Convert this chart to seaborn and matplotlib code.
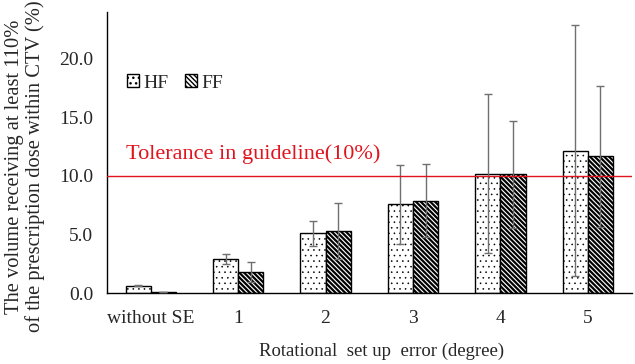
import matplotlib
matplotlib.use('Agg')
from matplotlib import pyplot as plt
from matplotlib.patches import Patch
import seaborn as sns
import pandas as pd

categories = ['without SE', '1', '2', '3', '4', '5']
hf_mean = [0.62, 2.89, 5.1, 7.57, 10.2, 12.16]
hf_sd = [0.05, 0.42, 1.05, 3.4, 6.8, 10.7]
ff_mean = [0.08, 1.78, 5.3, 7.9, 10.14, 11.67]
ff_sd = [0.0, 0.85, 2.4, 3.15, 4.56, 6.0]
tolerance = 10.0

sns.set_style('white')
plt.rcParams['font.family'] = ['Liberation Serif', 'DejaVu Serif']
plt.rcParams['hatch.linewidth'] = 1.0

df = pd.DataFrame({
    'category': categories * 2,
    'value': hf_mean + ff_mean,
    'sd': hf_sd + ff_sd,
    'group': ['HF'] * len(categories) + ['FF'] * len(categories),
})

fig = plt.figure(figsize=(6.35, 3.64), dpi=100)
ax = fig.add_axes([0.1685, 0.195, 0.826, 0.772])

sns.barplot(data=df, x='category', y='value', hue='group', hue_order=['HF', 'FF'],
            palette=['white', 'white'], edgecolor='black', linewidth=1.0,
            width=0.575, errorbar=None, legend=False, ax=ax)

hatches = {'HF': '...', 'FF': '\\' * 7}
hatch_lw = {'HF': 0.4, 'FF': 1.6}


def style_hatch(p, grp):
    p.set_hatch(hatches[grp])
    if hasattr(p, 'set_hatch_linewidth'):
        p.set_hatch_linewidth(hatch_lw[grp])


# patches come in hue order: all HF bars then all FF bars
for i, p in enumerate(ax.patches):
    grp = 'HF' if i < len(categories) else 'FF'
    style_hatch(p, grp)
    idx = i % len(categories)
    sd = hf_sd[idx] if grp == 'HF' else ff_sd[idx]
    xc = p.get_x() + p.get_width() / 2
    ax.errorbar(xc, p.get_height(), yerr=sd, color='#707070', linewidth=1.0,
                capsize=3, capthick=1.0, zorder=3)

ax.axhline(tolerance, color='#e0141e', linewidth=1.0, zorder=4)
ax.text(-0.28, 11.0, 'Tolerance in guideline(10%)', color='#e0141e',
        fontsize=16, ha='left', va='bottom')

ax.set_ylim(0, 24)
ax.set_xlim(-0.5, 5.5)
ax.set_yticks([0, 5, 10, 15, 20])
ax.set_yticklabels([f'{v:.1f}' for v in [0, 5, 10, 15, 20]], fontsize=14)
ax.set_xticks(range(len(categories)))
ax.set_xticklabels(categories, fontsize=14)
ax.tick_params(axis='y', length=0, pad=10)
ax.tick_params(axis='x', length=0, pad=12)

ax.set_xlabel('Rotational  set up  error (degree)', fontsize=13.5)
ax.xaxis.set_label_coords(0.523, -0.175)
ax.set_ylabel('The volume receiving at least 110%\nof the prescription dose within CTV (%)',
              fontsize=14.8, linespacing=1.1)
ax.yaxis.set_label_coords(-0.118, 0.45)

for s in ['top', 'right']:
    ax.spines[s].set_visible(False)
for s in ['left', 'bottom']:
    ax.spines[s].set_color('black')
    ax.spines[s].set_linewidth(1.0)

handles = [Patch(facecolor='white', edgecolor='black', label='HF'),
           Patch(facecolor='white', edgecolor='black', label='FF')]
style_hatch(handles[0], 'HF')
style_hatch(handles[1], 'FF')
ax.legend(handles=handles, loc='upper left', bbox_to_anchor=(0.005, 0.84), ncol=2,
          frameon=False, fontsize=14, handlelength=0.6, handleheight=0.6,
          handletextpad=0.25, columnspacing=0.85)

fig.savefig('out.png', dpi=100)
